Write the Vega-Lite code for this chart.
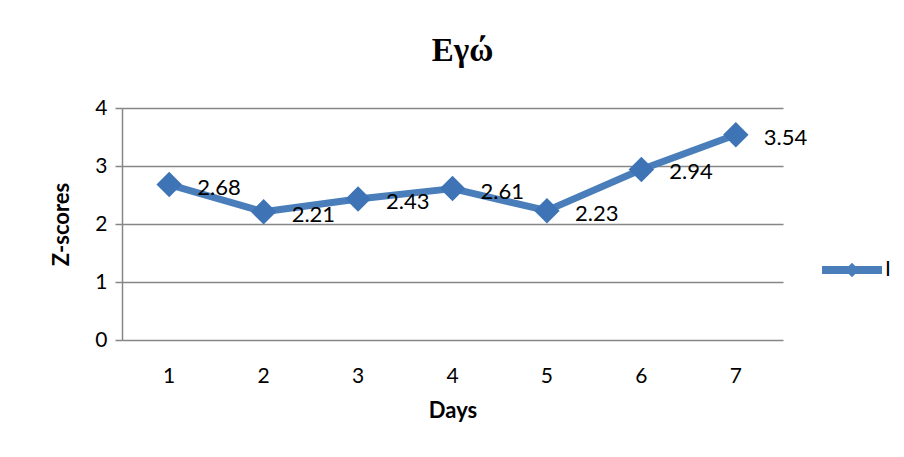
{
  "$schema": "https://vega.github.io/schema/vega-lite/v6.json",
  "autosize": {"type": "none"},
  "width": 661,
  "height": 232,
  "padding": {"left": 122, "top": 108, "right": 121, "bottom": 117},
  "background": "white",
  "title": {
    "text": "Εγώ",
    "font": "Liberation Serif",
    "fontSize": 33,
    "fontWeight": "bold",
    "color": "#000000",
    "anchor": "middle",
    "dx": 10,
    "offset": 29
  },
  "data": {
    "values": [
      {"day": 1, "z": 2.68, "series": "I"},
      {"day": 2, "z": 2.21, "series": "I"},
      {"day": 3, "z": 2.43, "series": "I"},
      {"day": 4, "z": 2.61, "series": "I"},
      {"day": 5, "z": 2.23, "series": "I"},
      {"day": 6, "z": 2.94, "series": "I"},
      {"day": 7, "z": 3.54, "series": "I"}
    ]
  },
  "encoding": {
    "x": {
      "field": "day",
      "type": "ordinal",
      "scale": {"type": "band", "paddingInner": 0, "paddingOuter": 0},
      "axis": {
        "title": "Days",
        "labelAngle": 0,
        "labelFont": "Lato",
        "labelFontSize": 21,
        "labelColor": "#000000",
        "labelPadding": 25,
        "ticks": false,
        "domain": false,
        "grid": false,
        "titleFont": "Lato",
        "titleFontSize": 22,
        "titleFontWeight": "bold",
        "titleColor": "#000000",
        "titlePadding": 14
      }
    },
    "y": {
      "field": "z",
      "type": "quantitative",
      "scale": {"domain": [0, 4]},
      "axis": {
        "title": "Z-scores",
        "values": [0, 1, 2, 3, 4],
        "format": "d",
        "labelFont": "Lato",
        "labelFontSize": 21,
        "labelColor": "#000000",
        "labelPadding": 8,
        "tickSize": 7,
        "tickColor": "#868686",
        "tickWidth": 1.5,
        "domainColor": "#868686",
        "domainWidth": 1.5,
        "gridColor": "#868686",
        "gridWidth": 1.5,
        "titleFont": "Lato",
        "titleFontSize": 22,
        "titleFontWeight": "bold",
        "titleColor": "#000000",
        "titlePadding": 21
      }
    }
  },
  "layer": [
    {
      "mark": {"type": "line", "strokeWidth": 7, "strokeJoin": "round"},
      "encoding": {
        "color": {
          "field": "series",
          "type": "nominal",
          "scale": {"range": ["#4A7EBB"]},
          "legend": {
            "title": null,
            "orient": "none",
            "legendX": 700,
            "legendY": 132,
            "padding": 0,
            "symbolType": "M-1,-0.13 L1,-0.13 L1,0.13 L-1,0.13 Z M0,-0.24 L0.24,0 L0,0.24 L-0.24,0 Z",
            "symbolSize": 3600,
            "symbolStrokeWidth": 0,
            "symbolFillColor": "#4A7EBB",
            "symbolOpacity": 1,
            "labelFont": "Lato",
            "labelFontSize": 21,
            "labelColor": "#000000",
            "labelOffset": 3
          }
        }
      }
    },
    {
      "mark": {"type": "point", "shape": "diamond", "filled": true, "size": 650, "opacity": 1, "color": "#3E74B6"}
    },
    {
      "mark": {"type": "text", "align": "left", "baseline": "middle", "dx": 28, "dy": 3, "font": "Lato", "fontSize": 22, "color": "#000000"},
      "encoding": {"text": {"field": "z", "type": "quantitative", "format": ".2f"}}
    }
  ],
  "config": {"view": {"stroke": null}}
}
